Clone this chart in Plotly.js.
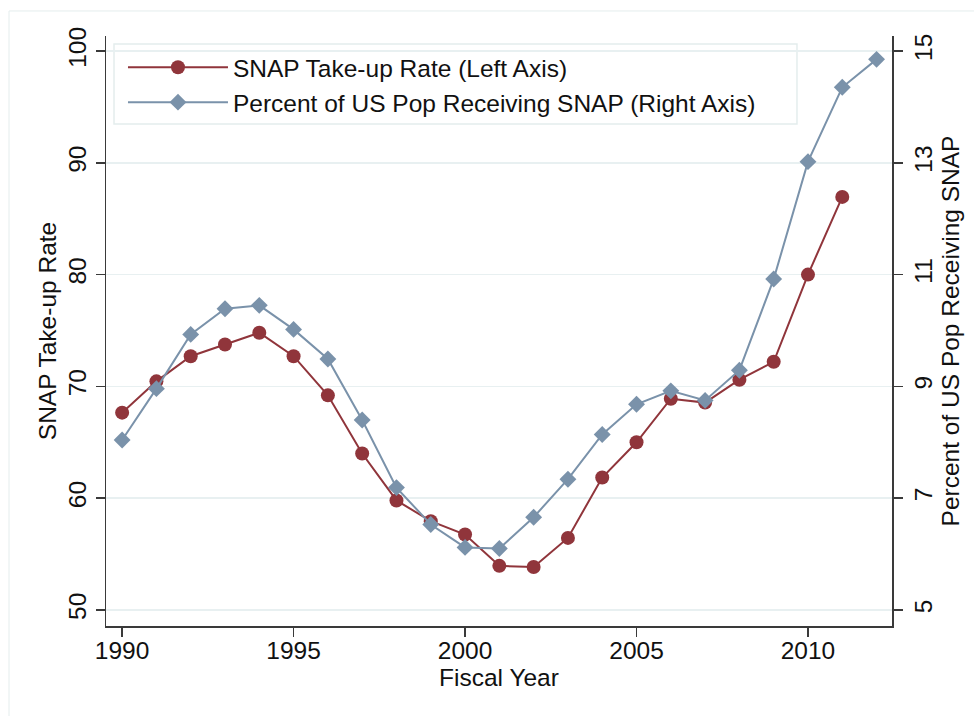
<!DOCTYPE html>
<html>
<head>
<meta charset="utf-8">
<script src="https://cdn.plot.ly/plotly-3.0.1.min.js"></script>
<style>html,body{margin:0;padding:0;background:#fff;}#chart{width:974px;height:716px;}</style>
</head>
<body>
<div id="chart"></div>
<script>
// Data
const yearsTakeup = [1990,1991,1992,1993,1994,1995,1996,1997,1998,1999,2000,2001,2002,2003,2004,2005,2006,2007,2008,2009,2010,2011];
const takeupRate = [67.65,70.45,72.7,73.75,74.8,72.7,69.2,64.0,59.8,57.95,56.75,53.95,53.85,56.45,61.85,65.0,68.9,68.55,70.6,72.2,80.0,86.95];
const yearsPct = [1990,1991,1992,1993,1994,1995,1996,1997,1998,1999,2000,2001,2002,2003,2004,2005,2006,2007,2008,2009,2010,2011,2012];
const pctReceiving = [8.04,8.96,9.93,10.39,10.45,10.02,9.49,8.40,7.19,6.53,6.12,6.10,6.66,7.34,8.14,8.68,8.92,8.75,9.29,10.92,13.02,14.35,14.85];
const xTicks = [1990,1995,2000,2005,2010];
const leftTicks = [50,60,70,80,90,100];
const rightTicks = [5,7,9,11,13,15];

const RED = '#90353b';
const BLUE = '#7a92aa';
const FONT = 'Liberation Sans, Arial, Helvetica, sans-serif';
const FS = 24.5;

const traces = [
  {x: yearsTakeup, y: takeupRate, type: 'scatter', mode: 'lines+markers',
   name: 'SNAP Take-up Rate (Left Axis)', yaxis: 'y',
   line: {color: RED, width: 2}, marker: {color: RED, symbol: 'circle', size: 14}},
  {x: yearsPct, y: pctReceiving, type: 'scatter', mode: 'lines+markers',
   name: 'Percent of US Pop Receiving SNAP (Right Axis)', yaxis: 'y2',
   line: {color: BLUE, width: 2}, marker: {color: BLUE, symbol: 'diamond', size: 13}}
];

const axisCommon = {
  showline: true, linecolor: '#3a3a3a', linewidth: 1.5,
  ticks: 'outside', ticklen: 9, tickwidth: 1.5, tickcolor: '#3a3a3a',
  tickfont: {family: FONT, size: FS, color: '#111'},
  zeroline: false
};

const layout = {
  width: 974, height: 716,
  margin: {l: 106, r: 82, t: 36, b: 90},
  paper_bgcolor: '#fff', plot_bgcolor: '#fff',
  font: {family: FONT, size: FS, color: '#111'},
  showlegend: true,
  legend: {x: 0.0216, y: 0.985, xanchor: 'left', yanchor: 'top',
    bgcolor: 'rgba(0,0,0,0)', borderwidth: 0,
    font: {family: FONT, size: FS, color: '#111'}, itemwidth: 100, tracegroupgap: 0},
  xaxis: Object.assign({}, axisCommon, {
    range: [1989.53, 2012.45], tickvals: xTicks, ticktext: xTicks.map(String),
    showgrid: false, mirror: false, ticklabelstandoff: -7,
    title: {text: 'Fiscal Year', font: {family: FONT, size: FS, color: '#111'}, standoff: 0}
  }),
  yaxis: Object.assign({}, axisCommon, {
    range: [48.57, 101.34], tickvals: leftTicks, ticktext: leftTicks.map(String),
    tickangle: -90, showgrid: true, gridcolor: '#e8f0f1', gridwidth: 1.5,
    title: {text: 'SNAP Take-up Rate', font: {family: FONT, size: FS, color: '#111'}, standoff: 0}
  }),
  yaxis2: Object.assign({}, axisCommon, {
    overlaying: 'y', side: 'right',
    range: [4.714, 15.268], tickvals: rightTicks, ticktext: rightTicks.map(String),
    tickangle: -90, showgrid: false,
    title: {text: 'Percent of US Pop Receiving SNAP', font: {family: FONT, size: FS, color: '#111'}, standoff: 0}
  }),
  shapes: [
    {type: 'rect', xref: 'paper', yref: 'paper', x0: -0.1234, x1: 1.2, y0: -0.25, y1: 1.0424,
     line: {color: '#e4eded', width: 1}, fillcolor: 'rgba(0,0,0,0)', layer: 'below'},
    {type: 'rect', xref: 'paper', yref: 'paper', x0: 0.0102, x1: 0.8791, y0: 0.8508, y1: 0.9864,
     line: {color: '#e4eded', width: 1.5}, fillcolor: '#fff', layer: 'below'}
  ]
};

Plotly.newPlot('chart', traces, layout, {displayModeBar: false, staticPlot: true});
</script>
</body>
</html>
